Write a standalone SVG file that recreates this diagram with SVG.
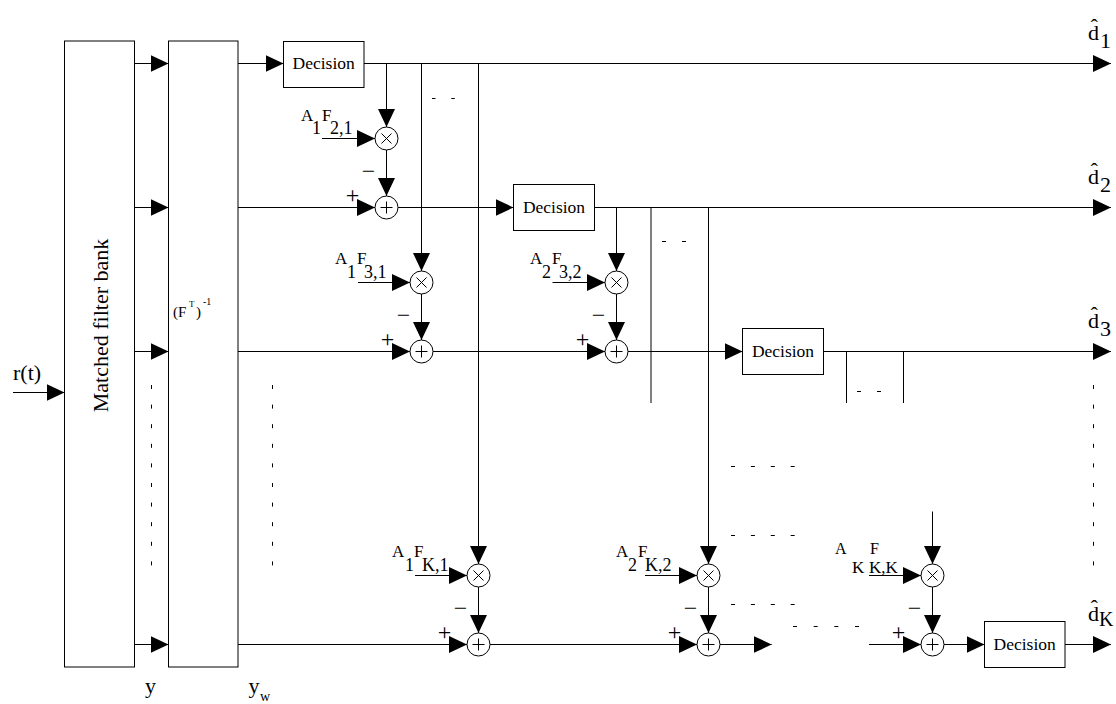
<svg xmlns="http://www.w3.org/2000/svg" width="1116" height="704" viewBox="0 0 1116 704" font-family="'Liberation Serif','Times New Roman',serif">
<defs>
<marker id="ah" markerUnits="userSpaceOnUse" markerWidth="18" markerHeight="18" refX="18" refY="9" orient="auto" viewBox="0 0 18 18">
<path d="M0,0.5 L18,9 L0,17.5 z" fill="#000"/>
</marker>
<style>
text{font-family:"Liberation Serif","Times New Roman",serif;fill:#000}
.box{fill:#fff;stroke:#000;stroke-width:1}
.op{fill:#fff;stroke:#000;stroke-width:1}
.sym{stroke:#000;stroke-width:1;fill:none}
.c{fill:none;stroke:#000;stroke-width:1}
.a{marker-end:url(#ah)}
.dot{fill:none;stroke:#000;stroke-width:1}
.dec{font-size:17.5px;text-anchor:middle}
.lab{font-size:17px}
.sub{font-size:18px}
.pm{font-size:24px;text-anchor:middle}
.big{font-size:22px}
</style>
</defs>
<rect width="1116" height="704" fill="#fff"/>

<g id="connectors">
<path class="c a" d="M134.5,63.5 H168.5"/>
<path class="c a" d="M134.5,207.5 H168.5"/>
<path class="c a" d="M134.5,351.5 H168.5"/>
<path class="c a" d="M134.5,644.5 H168.5"/>
<path class="c a" d="M13,392.5 H64.5"/>
<path class="c a" d="M238,63.5 H283.5"/>
<path class="c a" d="M364,63.5 H1111"/>
<path class="c a" d="M386.5,63.5 V127"/>
<path class="c a" d="M421.5,63.5 V271"/>
<path class="c a" d="M478.5,63.5 V564"/>
<path class="c a" d="M386.5,150 V196"/>
<path class="c a" d="M238,207.5 H375"/>
<path class="c a" d="M398,207.5 H513.5"/>
<path class="c a" d="M594.5,207.5 H1111"/>
<path class="c a" d="M616.5,207.5 V271"/>
<path class="c" d="M651,207.5 V403"/>
<path class="c a" d="M708.5,207.5 V564"/>
<path class="c a" d="M421.5,294 V340"/>
<path class="c a" d="M616.5,294 V340"/>
<path class="c a" d="M238,351.5 H410"/>
<path class="c a" d="M433,351.5 H605"/>
<path class="c a" d="M628,351.5 H742.5"/>
<path class="c a" d="M823.5,351.5 H1111"/>
<path class="c" d="M846.5,351.5 V403"/>
<path class="c" d="M903.5,351.5 V403"/>
<path class="c a" d="M238,644.5 H467"/>
<path class="c a" d="M490,644.5 H697"/>
<path class="c a" d="M720,644.5 H771.7"/>
<path class="c a" d="M869,644.5 H921"/>
<path class="c a" d="M944,644.5 H984.5"/>
<path class="c a" d="M1065,644.5 H1111"/>
<path class="c a" d="M478.5,587 V633"/>
<path class="c a" d="M708.5,587 V633"/>
<path class="c a" d="M932.5,587 V633"/>
<path class="c a" d="M932.5,511.5 V564"/>
<path class="c a" d="M322,138.5 H375"/>
<path class="c a" d="M358,282.5 H410"/>
<path class="c a" d="M552.5,282.5 H605"/>
<path class="c a" d="M415,575.5 H467"/>
<path class="c a" d="M645,575.5 H697"/>
<path class="c a" d="M869,575.5 H921"/>
</g>

<g id="ellipses">
<path class="dot" d="M151.5,385 V567" stroke-dasharray="4 15.6"/>
<path class="dot" d="M272.5,385 V567" stroke-dasharray="4 15.6"/>
<path class="dot" d="M1093.5,385 V567" stroke-dasharray="4 15.6"/>
<path class="dot" d="M432,98.5 H455.5" stroke-dasharray="3.5 15.8"/>
<path class="dot" d="M662,241.5 H686" stroke-dasharray="4 16"/>
<path class="dot" d="M857,391.5 H881" stroke-dasharray="4 16"/>
<path class="dot" d="M731,466.5 H795" stroke-dasharray="4 15.9"/>
<path class="dot" d="M731,535.5 H795" stroke-dasharray="4 15.9"/>
<path class="dot" d="M731,604.5 H795" stroke-dasharray="4 15.9"/>
<path class="dot" d="M793,626.5 H859" stroke-dasharray="4 16.67"/>
</g>

<g id="matched-filter-bank">
<rect class="box" x="64.5" y="41" width="70" height="626"/>
<text class="big" transform="translate(108,325.5) rotate(-90)" text-anchor="middle">Matched filter bank</text>
</g>

<g id="whitening">
<rect class="box" x="168.5" y="41" width="69.5" height="626"/>
<text x="173" y="316.5" font-size="15">(F<tspan x="189" y="307" font-size="9">T</tspan><tspan x="196" y="316.5">)</tspan><tspan x="203" y="305" font-size="10">-1</tspan></text>
</g>

<g id="decision-1">
<rect class="box" x="283.5" y="41.5" width="80.5" height="46"/>
<text class="dec" x="323.7" y="69">Decision</text>
</g>
<g id="decision-2">
<rect class="box" x="513.5" y="184.5" width="81" height="46"/>
<text class="dec" x="554" y="213">Decision</text>
</g>
<g id="decision-3">
<rect class="box" x="742.5" y="328.5" width="81" height="46"/>
<text class="dec" x="783" y="357">Decision</text>
</g>
<g id="decision-K">
<rect class="box" x="984.5" y="621.5" width="80.5" height="46"/>
<text class="dec" x="1024.7" y="650">Decision</text>
</g>

<g id="mult-2-1">
<circle class="op" cx="386.5" cy="138.5" r="11.5"/>
<path class="sym" d="M381.5,133.5 L391.5,143.5 M391.5,133.5 L381.5,143.5"/>
<text class="lab" x="301" y="121">A</text><text class="sub" x="312" y="133.5">1</text>
<text class="lab" x="322" y="121">F</text><text class="sub" x="330" y="133.5">2,1</text>
</g>
<g id="add-2">
<circle class="op" cx="386.5" cy="207.5" r="11.5"/>
<path class="sym" d="M380.5,207.5 H392.5 M386.5,201.5 V213.5"/>
<text class="pm" x="368.5" y="178.5">−</text>
<text class="pm" x="352.5" y="202.5">+</text>
</g>

<g id="mult-3-1">
<circle class="op" cx="421.5" cy="282.5" r="11.5"/>
<path class="sym" d="M416.5,277.5 L426.5,287.5 M426.5,277.5 L416.5,287.5"/>
<text class="lab" x="335" y="264">A</text><text class="sub" x="347" y="277.5">1</text>
<text class="lab" x="357" y="264">F</text><text class="sub" x="364" y="277.5">3,1</text>
</g>
<g id="add-3-1">
<circle class="op" cx="421.5" cy="351.5" r="11.5"/>
<path class="sym" d="M415.5,351.5 H427.5 M421.5,345.5 V357.5"/>
<text class="pm" x="403.5" y="322.5">−</text>
<text class="pm" x="387.5" y="346.5">+</text>
</g>

<g id="mult-3-2">
<circle class="op" cx="616.5" cy="282.5" r="11.5"/>
<path class="sym" d="M611.5,277.5 L621.5,287.5 M621.5,277.5 L611.5,287.5"/>
<text class="lab" x="530" y="264">A</text><text class="sub" x="542" y="277.5">2</text>
<text class="lab" x="552" y="264">F</text><text class="sub" x="559" y="277.5">3,2</text>
</g>
<g id="add-3-2">
<circle class="op" cx="616.5" cy="351.5" r="11.5"/>
<path class="sym" d="M610.5,351.5 H622.5 M616.5,345.5 V357.5"/>
<text class="pm" x="598.5" y="322.5">−</text>
<text class="pm" x="582.5" y="346.5">+</text>
</g>

<g id="mult-K-1">
<circle class="op" cx="478.5" cy="575.5" r="11.5"/>
<path class="sym" d="M473.5,570.5 L483.5,580.5 M483.5,570.5 L473.5,580.5"/>
<text class="lab" x="392" y="557">A</text><text class="sub" x="405" y="571">1</text>
<text class="lab" x="414" y="557">F</text><text class="sub" x="422" y="571">K,1</text>
</g>
<g id="add-K-1">
<circle class="op" cx="478.5" cy="644.5" r="11.5"/>
<path class="sym" d="M472.5,644.5 H484.5 M478.5,638.5 V650.5"/>
<text class="pm" x="460.5" y="615.5">−</text>
<text class="pm" x="444.5" y="639.5">+</text>
</g>

<g id="mult-K-2">
<circle class="op" cx="708.5" cy="575.5" r="11.5"/>
<path class="sym" d="M703.5,570.5 L713.5,580.5 M713.5,570.5 L703.5,580.5"/>
<text class="lab" x="616" y="557">A</text><text class="sub" x="628" y="571">2</text>
<text class="lab" x="638" y="557">F</text><text class="sub" x="645" y="571">K,2</text>
</g>
<g id="add-K-2">
<circle class="op" cx="708.5" cy="644.5" r="11.5"/>
<path class="sym" d="M702.5,644.5 H714.5 M708.5,638.5 V650.5"/>
<text class="pm" x="690.5" y="615.5">−</text>
<text class="pm" x="674.5" y="639.5">+</text>
</g>

<g id="mult-K-K">
<circle class="op" cx="932.5" cy="575.5" r="11.5"/>
<path class="sym" d="M927.5,570.5 L937.5,580.5 M937.5,570.5 L927.5,580.5"/>
<text x="835" y="553.5" font-size="16">A</text><text x="852" y="573" font-size="17">K</text>
<text x="870" y="553.5" font-size="16">F</text><text x="869" y="573" font-size="17">K,K</text>
</g>
<g id="add-K-K">
<circle class="op" cx="932.5" cy="644.5" r="11.5"/>
<path class="sym" d="M926.5,644.5 H938.5 M932.5,638.5 V650.5"/>
<text class="pm" x="914.5" y="615.5">−</text>
<text class="pm" x="898.5" y="639.5">+</text>
</g>

<g id="labels">
<text class="big" x="13" y="380">r(t)</text>
<text class="big" x="145" y="692.5">y</text>
<text class="big" x="248.5" y="692.5">y<tspan x="260" y="701" font-size="14">w</tspan></text>
<text class="big" x="1088" y="39.5">d̂<tspan x="1100" y="47.5">1</tspan></text>
<text class="big" x="1088" y="183.5">d̂<tspan x="1100" y="191.5">2</tspan></text>
<text class="big" x="1088" y="327.5">d̂<tspan x="1100" y="335.5">3</tspan></text>
<text class="big" x="1088" y="620.5">d̂<tspan x="1099" y="626" font-size="20">K</tspan></text>
</g>
</svg>
